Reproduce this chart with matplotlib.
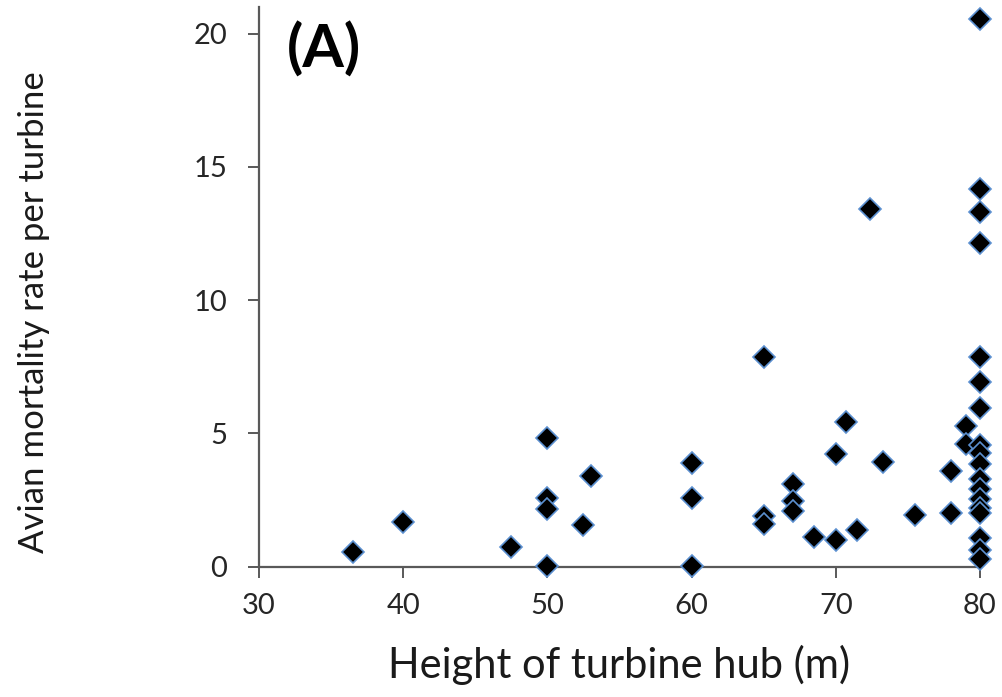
import matplotlib
matplotlib.use("Agg")
import matplotlib.pyplot as plt

# hub height (m) and avian mortality rate per turbine
heights = [36.5, 40.0, 47.5, 50.0, 50.0, 50.0, 50.0, 52.5, 53.0,
           60.0, 60.0, 60.0, 65.0, 65.0, 65.0, 67.0, 67.0, 67.0,
           68.5, 70.0, 70.0, 70.7, 71.5, 72.4, 73.3, 75.5,
           78.0, 78.0, 79.0, 79.0,
           80.0, 80.0, 80.0, 80.0, 80.0, 80.0, 80.0, 80.0, 80.0,
           80.0, 80.0, 80.0, 80.0, 80.0, 80.0, 80.0, 80.0, 80.0]
rates = [0.56, 1.69, 0.73, 4.82, 2.57, 2.15, 0.04, 1.56, 3.40,
         3.88, 2.57, 0.04, 7.86, 1.90, 1.60, 3.09, 2.47, 2.10,
         1.10, 1.00, 4.23, 5.42, 1.38, 13.41, 3.94, 1.94,
         3.60, 2.00, 5.28, 4.60,
         20.54, 14.16, 13.30, 12.16, 7.86, 6.94, 5.94, 4.57, 4.27,
         3.85, 3.30, 2.92, 2.55, 2.22, 2.00, 1.08, 0.62, 0.28]

plt.rcParams['font.family'] = ['Lato', 'DejaVu Sans']

fig = plt.figure(figsize=(10.03, 6.97), dpi=100)
ax = fig.add_axes([259/1003, 1 - 566.7/697, (980 - 259)/1003, (566.7 - 7)/697])

ax.plot(heights, rates, linestyle='none', marker='D', ms=11,
        mfc='black', mec='#5b8fcf', mew=1.2, clip_on=False, zorder=3)

ax.set_xlim(30, 80)
ax.set_ylim(0, 21)
ax.set_xticks([30, 40, 50, 60, 70, 80])
ax.set_yticks([0, 5, 10, 15, 20])

for s in ['top', 'right']:
    ax.spines[s].set_visible(False)
for s in ['left', 'bottom']:
    ax.spines[s].set_color('#595959')
    ax.spines[s].set_linewidth(1.6)

ax.tick_params(axis='both', direction='out', length=8, width=1.4,
               color='#595959', labelsize=21, labelcolor='#262626')
ax.tick_params(axis='x', pad=11)
ax.tick_params(axis='y', pad=15)

ax.set_xlabel('Height of turbine hub (m)', fontsize=30, color='#1a1a1a')
ax.set_ylabel('Avian mortality rate per turbine', fontsize=25, color='#1a1a1a')
ax.xaxis.set_label_coords(0.5, -0.14)
ax.yaxis.set_label_coords(-0.29, 0.454)

ax.text(0.038, 0.975, '(A)', transform=ax.transAxes, fontsize=43,
        fontweight='bold', ha='left', va='top')

fig.savefig('out.png', dpi=100)
